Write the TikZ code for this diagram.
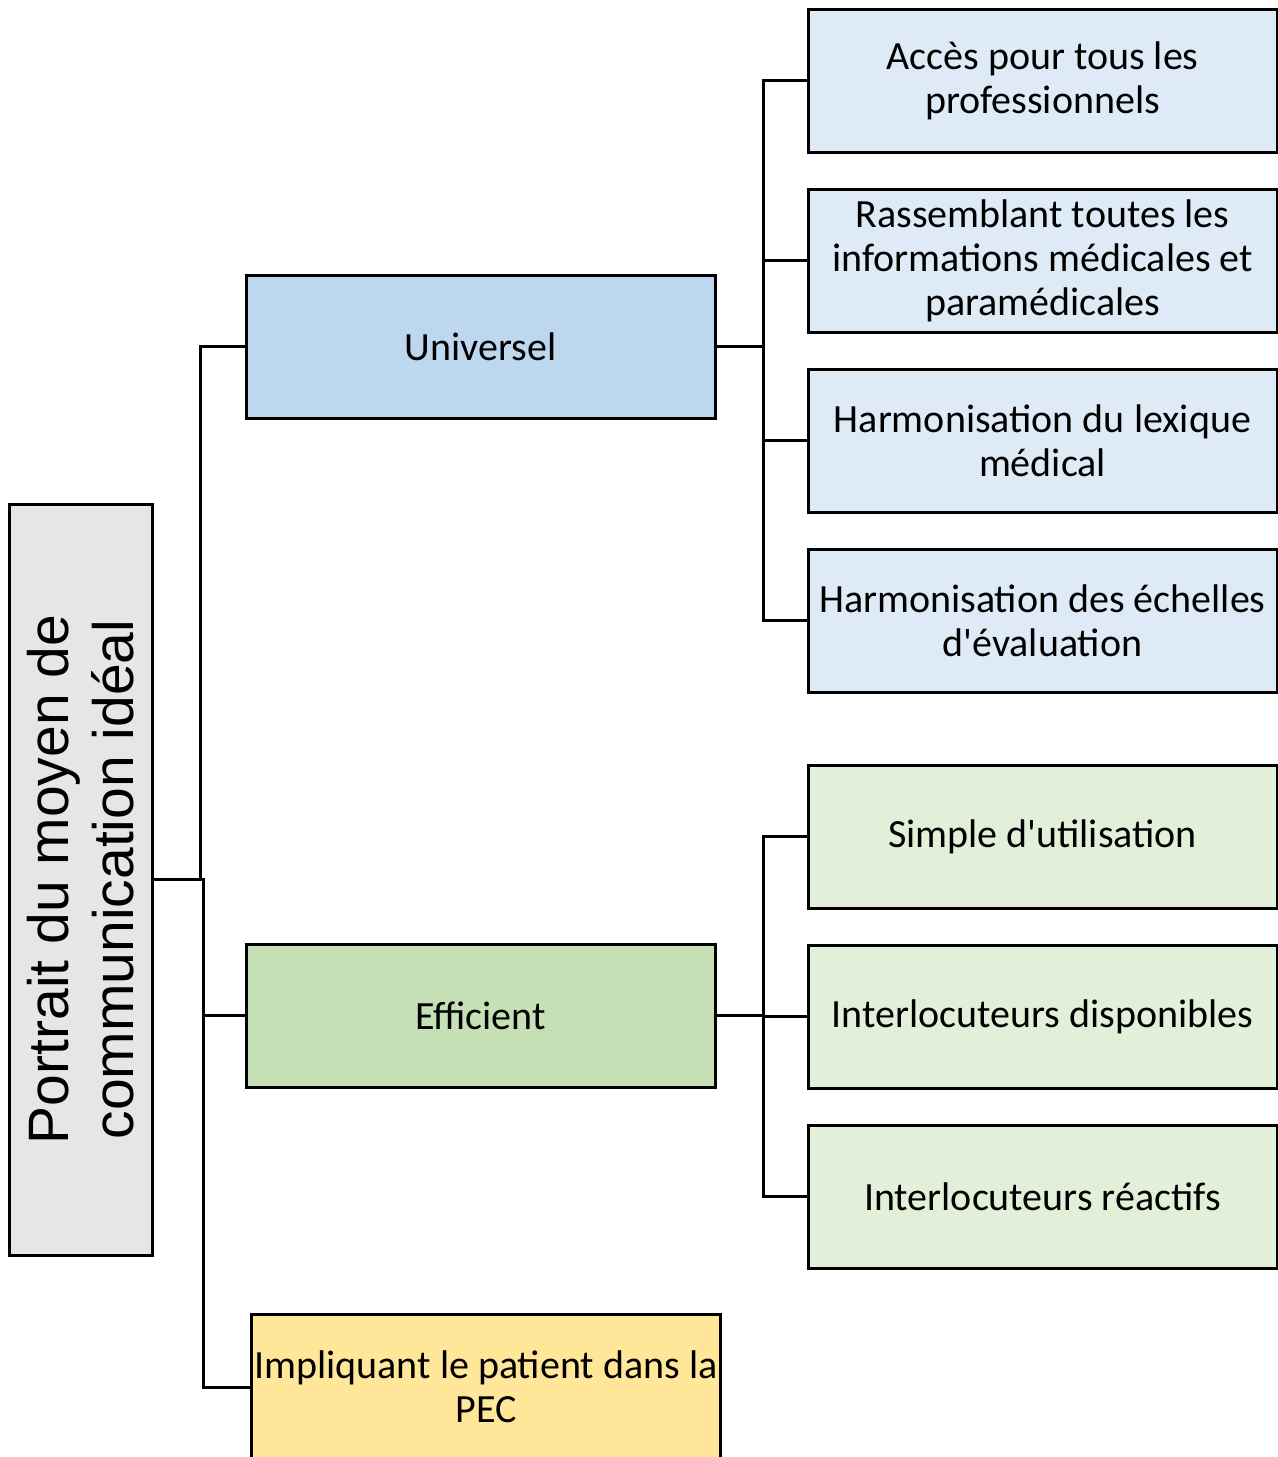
\documentclass[tikz,border=0pt]{standalone}
\usepackage{fontspec}
\setmainfont{Carlito}[Ligatures=TeXOff]
\newfontfamily\rootfont{Liberation Sans}
\usetikzlibrary{positioning}
\definecolor{gray1}{RGB}{231, 230, 230}
\definecolor{blue1}{RGB}{189, 215, 238}
\definecolor{blue2}{RGB}{222, 235, 247}
\definecolor{green1}{RGB}{197, 224, 180}
\definecolor{green2}{RGB}{226, 240, 217}
\definecolor{yellow1}{RGB}{255, 230, 153}
\tikzset{
card/.style={draw, line width=1.5pt, fill=#1,
	minimum width=234.5pt, minimum height=71.5pt, inner sep=0.5pt,
	align=center, font=\fontsize{20}{22}\selectfont},
rootcard/.style={draw, line width=1.5pt, fill=gray1, rotate=90,
	minimum width=375.5pt, minimum height=71.5pt, inner sep=1pt,
	align=center, font=\rootfont\fontsize{28.5}{32.5}\selectfont},
link/.style={line width=1.5pt},
}
\begin{document}
\begin{tikzpicture}[x=0.5pt, y=-0.5pt, node distance=90pt]
\useasboundingbox (0,0) rectangle (1278,1457);
%Place the nodes
\node[rootcard] (root) at (80.5,879.5) {Portrait du moyen de\\communication idéal};

\node[card=blue1] (u) at (480.5,346.5) {Universel};
\node[card=green1] (e) at (480.5,1015.5) {Efficient};
\node[card=yellow1, minimum height=73pt] (p) at (486,1387) {Impliquant le patient dans la\\PEC};

\node[card=blue2] (u1) at (1042.5,80.5) {Accès pour tous les\\professionnels};
\node[card=blue2, below of=u1] (u2) {Rassemblant toutes les\\informations médicales et\\paramédicales};
\node[card=blue2, below of=u2] (u3) {Harmonisation du lexique\\médical};
\node[card=blue2, below of=u3] (u4) {Harmonisation des échelles\\d'évaluation};

\node[card=green2] (e1) at (1042.5,836.5) {Simple d'utilisation};
\node[card=green2, below of=e1] (e2) {Interlocuteurs disponibles};
\node[card=green2, below of=e2] (e3) {Interlocuteurs réactifs};

%Connect them
\draw[link] (root.south) -- ++(47,0) |- (u.west);
\draw[link] (root.south) -- ++(50,0) |- (e.west);
\draw[link] (root.south) -- ++(50,0) |- (p.west);

\foreach \n in {u1,u2,u3,u4}
	\draw[link] (u.east) -- ++(47,0) |- (\n.west);
\foreach \n in {e1,e2,e3}
	\draw[link] (e.east) -- ++(47,0) |- (\n.west);

\end{tikzpicture}
\end{document}
